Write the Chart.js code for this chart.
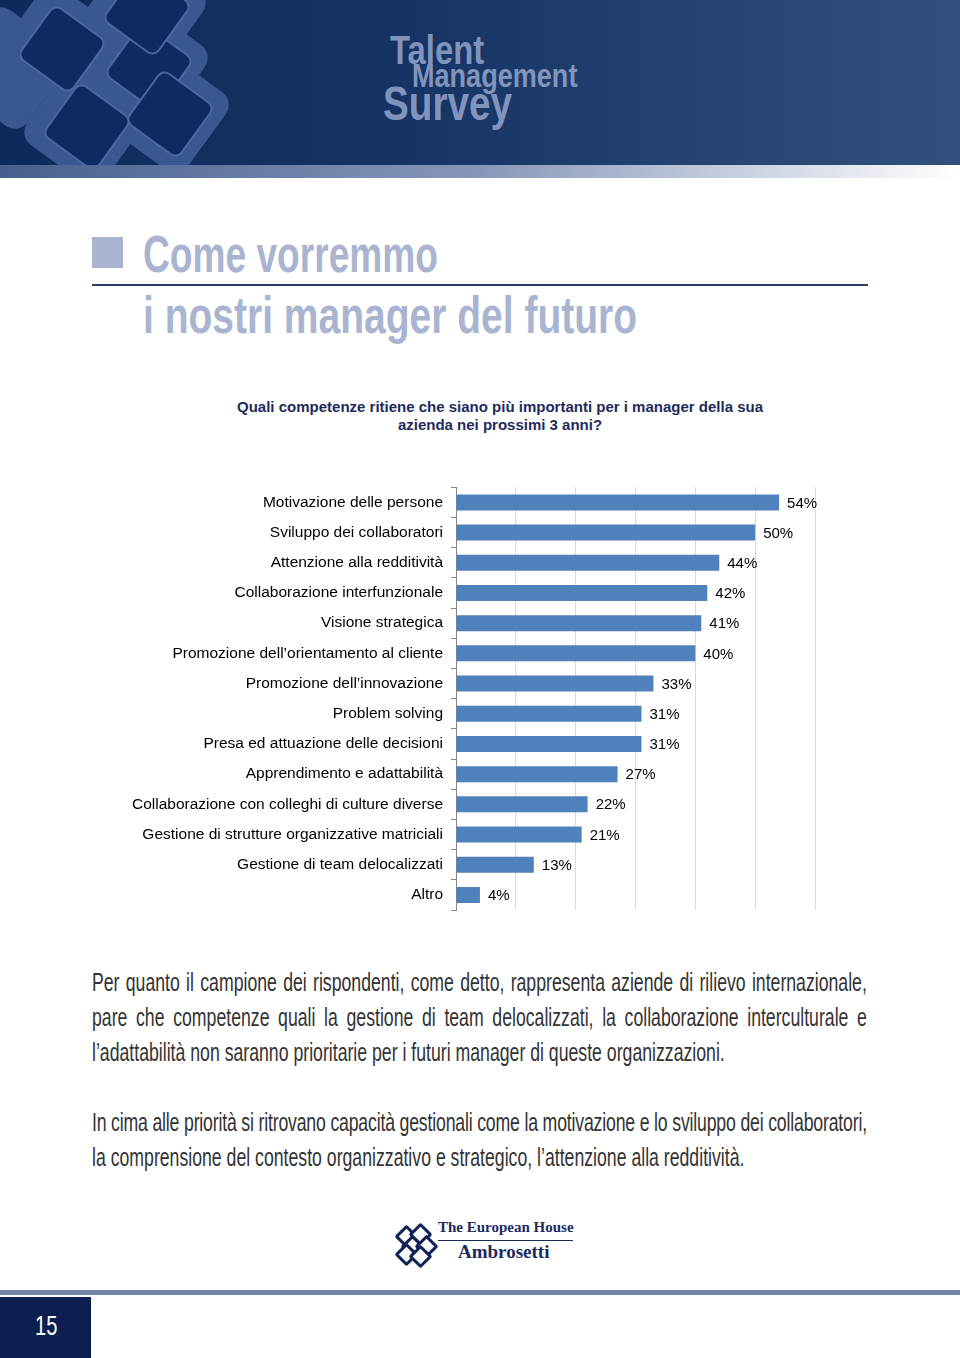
<!DOCTYPE html>
<html>
<head>
<meta charset="utf-8">
<script src="https://cdn.jsdelivr.net/npm/chart.js@4.4.1/dist/chart.umd.min.js"></script>
<style>
    body { margin: 0; background: #fff; }
    #page { position: relative; width: 960px; height: 1358px; overflow: hidden; background: #fff; font-family: "Liberation Sans", Arial, sans-serif; }
    .abs { position: absolute; }
    #banner { left: 0; top: 0; width: 960px; height: 165px; background: linear-gradient(90deg, #0c2a5c 0%, #163566 45%, #33507d 100%); overflow: hidden; }
    #stripe { left: 0; top: 165px; width: 960px; height: 13px; background: linear-gradient(90deg, #46608d 0%, #8797ba 50%, #ffffff 100%); }
    .band { position: absolute; width: 96px; height: 96px; border-radius: 16px; background: #3a5890; transform: rotate(36deg); }
    .hole { position: absolute; width: 62px; height: 62px; border-radius: 9px; background: #0d2b60; border: 2px solid #4a68a0; transform: rotate(36deg); }
    .cond { position: absolute; white-space: nowrap; transform-origin: left top; line-height: 1; }
    .hdr { color: #8294bc; font-weight: bold; }
    .title { left: 143px; color: #a9b4d1; font-weight: bold; font-size: 52px; }
    #question { left: 180px; top: 398px; width: 640px; text-align: center; font-weight: bold; font-size: 15px; line-height: 18px; color: #1e2a5c; }
    .para { position: absolute; left: 92px; width: 1096px; font-size: 25px; color: #333; transform-origin: left top; transform: scaleX(0.707); }
    .para div { height: 35px; line-height: 35px; text-align: justify; text-align-last: justify; white-space: nowrap; }
    .para div.last { text-align-last: left; }
    .para div.tight { letter-spacing: -0.25px; }
    #chartBox { left: 100px; top: 470px; width: 740px; height: 460px; }
    .lsq { position: absolute; width: 11px; height: 11px; border: 3px solid #0d2255; border-radius: 2px; background: #fff; transform: rotate(45deg); }
</style>
</head>
<body>
<div id="page">
    <div id="banner" class="abs">
        <div class="band" style="left:-40px; top:20px;"></div>
        <div class="band" style="left:12px; top:-2px;"></div>
        <div class="band" style="left:99px; top:17px;"></div>
        <div class="band" style="left:37px; top:77px;"></div>
        <div class="band" style="left:120px; top:64px;"></div>
        <div class="band" style="left:97px; top:-38px;"></div>
        <div class="hole" style="left:29px; top:16px;"></div>
        <div class="hole" style="left:116px; top:34px;"></div>
        <div class="hole" style="left:137px; top:81px;"></div>
        <div class="hole" style="left:54px; top:94px;"></div>
        <div class="hole" style="left:114px; top:-21px;"></div>
        <div class="cond hdr" style="left:390px; top:30px; font-size:40px; transform:scaleX(0.82);">Talent</div>
        <div class="cond hdr" style="left:412px; top:59px; font-size:33px; transform:scaleX(0.82);">Management</div>
        <div class="cond hdr" style="left:383px; top:79px; font-size:49px; transform:scaleX(0.79);">Survey</div>
    </div>
    <div id="stripe" class="abs"></div>

    <div class="abs" style="left:92px; top:237px; width:31px; height:31px; background:#a9b4d1;"></div>
    <div class="cond title" style="top:228px; transform:scaleX(0.714);">Come vorremmo</div>
    <div class="abs" style="left:92px; top:284px; width:776px; height:2px; background:#2c3a6c;"></div>
    <div class="cond title" style="top:289px; transform:scaleX(0.75);">i nostri manager del futuro</div>

    <div id="question" class="abs">Quali competenze ritiene che siano più importanti per i manager della sua<br>azienda nei prossimi 3 anni?</div>

    <div id="chartBox" class="abs"><canvas id="competenzeChart" width="740" height="460"></canvas></div>

    <div class="para" style="top:965px;">
        <div>Per quanto il campione dei rispondenti, come detto, rappresenta aziende di rilievo internazionale,</div>
        <div>pare che competenze quali la gestione di team delocalizzati, la collaborazione interculturale e</div>
        <div class="last">l’adattabilità non saranno prioritarie per i futuri manager di queste organizzazioni.</div>
    </div>
    <div class="para" style="top:1105px;">
        <div class="tight">In cima alle priorità si ritrovano capacità gestionali come la motivazione e lo sviluppo dei collaboratori,</div>
        <div class="last">la comprensione del contesto organizzativo e strategico, l’attenzione alla redditività.</div>
    </div>

    <!-- logo -->
    <div class="lsq" style="left:398px; top:1228px;"></div>
    <div class="lsq" style="left:412px; top:1226px;"></div>
    <div class="lsq" style="left:404px; top:1238px;"></div>
    <div class="lsq" style="left:418px; top:1238px;"></div>
    <div class="lsq" style="left:398px; top:1246px;"></div>
    <div class="lsq" style="left:412px; top:1248px;"></div>
    <div class="abs" style="left:438px; top:1219px; font-family:'Liberation Serif','DejaVu Serif',serif; font-weight:bold; font-size:15px; color:#1b2b5e; white-space:nowrap;">The European House</div>
    <div class="abs" style="left:438px; top:1240px; width:135px; height:1px; background:#1b2b5e;"></div>
    <div class="abs" style="left:458px; top:1241px; font-family:'Liberation Serif','DejaVu Serif',serif; font-weight:bold; font-size:19px; color:#1b2b5e; white-space:nowrap;">Ambrosetti</div>

    <!-- footer -->
    <div class="abs" style="left:0; top:1290px; width:960px; height:5px; background:#7583a8;"></div>
    <div class="abs" style="left:0; top:1297px; width:91px; height:61px; background:#0c1f50;"></div>
    <div class="cond" style="left:35px; top:1312px; color:#fff; font-size:28px; transform:scaleX(0.72);">15</div>
</div>

<script>
// Survey answers (% of respondents)
const categories = [
    'Motivazione delle persone',
    'Sviluppo dei collaboratori',
    'Attenzione alla redditività',
    'Collaborazione interfunzionale',
    'Visione strategica',
    'Promozione dell’orientamento al cliente',
    'Promozione dell’innovazione',
    'Problem solving',
    'Presa ed attuazione delle decisioni',
    'Apprendimento e adattabilità',
    'Collaborazione con colleghi di culture diverse',
    'Gestione di strutture organizzative matriciali',
    'Gestione di team delocalizzati',
    'Altro'
];
const values = [54, 50, 44, 42, 41, 40, 33, 31, 31, 27, 22, 21, 13, 4];
const xMin = 0;
const xMax = 60;
const xStep = 10;

// draws the "54%" style labels after each bar
const valueLabels = {
    id: 'valueLabels',
    afterDatasetsDraw(chart) {
        const ctx = chart.ctx;
        const meta = chart.getDatasetMeta(0);
        ctx.save();
        ctx.font = '15px "Liberation Sans", Arial, sans-serif';
        ctx.fillStyle = '#000';
        ctx.textAlign = 'left';
        ctx.textBaseline = 'middle';
        meta.data.forEach((bar, i) => {
            ctx.fillText(values[i] + '%', bar.x + 8, bar.y + 1);
        });
        ctx.restore();
    }
};

new Chart(document.getElementById('competenzeChart'), {
    type: 'bar',
    data: {
        labels: categories,
        datasets: [{
            data: values,
            backgroundColor: '#4f81bd',
            barPercentage: 0.53,
            categoryPercentage: 1
        }]
    },
    options: {
        indexAxis: 'y',
        responsive: false,
        animation: false,
        layout: { padding: { top: 17, bottom: 20, left: 0, right: 25 } },
        plugins: { legend: { display: false }, tooltip: { enabled: false } },
        scales: {
            x: {
                min: xMin,
                max: xMax,
                ticks: { display: false, stepSize: xStep },
                grid: { color: '#d9d9d9', drawTicks: false },
                border: { display: false },
                afterFit: scale => { scale.height = 0; }
            },
            y: {
                ticks: { color: '#000', font: { family: '"Liberation Sans", Arial, sans-serif', size: 15.5 }, padding: 8, autoSkip: false },
                grid: { drawOnChartArea: false, drawTicks: true, tickLength: 5, tickColor: '#868686' },
                border: { display: true, color: '#868686' },
                afterFit: scale => { scale.width = 356; }
            }
        }
    },
    plugins: [valueLabels]
});
</script>
</body>
</html>
